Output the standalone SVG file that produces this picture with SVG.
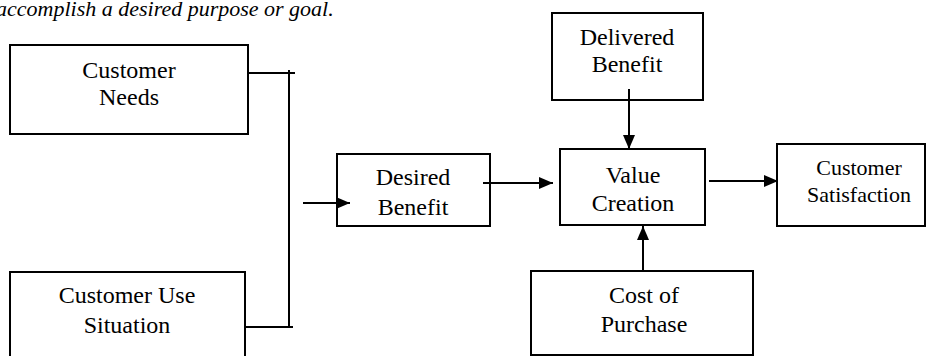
<svg xmlns="http://www.w3.org/2000/svg" width="927" height="356" viewBox="0 0 927 356">
<style>
.box{fill:#fff;stroke:#000;stroke-width:2}
.t{font-family:"Liberation Serif","DejaVu Serif",serif;font-size:24px;fill:#000;text-anchor:middle}
.s{font-size:22px}
.ttl{font-family:"Liberation Serif","DejaVu Serif",serif;font-style:italic;font-size:22px;fill:#000}
.ln{fill:none;stroke:#000;stroke-width:2}
</style>
<defs>
<marker id="ah" viewBox="0 0 14 12" refX="14" refY="6" markerWidth="14" markerHeight="12" markerUnits="userSpaceOnUse" orient="auto">
<path d="M0,0 L14,6 L0,12 Z" fill="#000"/>
</marker>
</defs>
<text class="ttl" x="-4" y="16">accomplish a desired purpose or goal.</text>
<g id="customer-needs">
<rect class="box" x="10" y="45" width="238" height="89"/>
<text class="t" x="129" y="78">Customer</text>
<text class="t" x="129" y="105">Needs</text>
</g>
<g id="customer-use-situation">
<rect class="box" x="10" y="272" width="235" height="100"/>
<text class="t" x="127" y="303">Customer Use</text>
<text class="t" x="127" y="333">Situation</text>
</g>
<g id="desired-benefit">
<rect class="box" x="337" y="154" width="153" height="72"/>
<text class="t" x="413" y="185">Desired</text>
<text class="t" x="413" y="215">Benefit</text>
</g>
<g id="value-creation">
<rect class="box" x="560" y="149" width="145" height="76"/>
<text class="t" x="633" y="183">Value</text>
<text class="t" x="633" y="211">Creation</text>
</g>
<g id="delivered-benefit">
<rect class="box" x="552" y="13" width="151" height="87"/>
<text class="t" x="627" y="45">Delivered</text>
<text class="t" x="627" y="72">Benefit</text>
</g>
<g id="cost-of-purchase">
<rect class="box" x="531" y="271" width="222" height="84"/>
<text class="t" x="644" y="303">Cost of</text>
<text class="t" x="644" y="332">Purchase</text>
</g>
<g id="customer-satisfaction">
<rect class="box" x="777" y="144" width="148" height="82"/>
<text class="t s" x="859" y="175">Customer</text>
<text class="t s" x="859" y="202">Satisfaction</text>
</g>
<g id="connectors">
<path class="ln" d="M248,73 H295 M289,70 V327 M245,327 H293"/>
<path class="ln" d="M303,203 H350" marker-end="url(#ah)"/>
<path class="ln" d="M483,183 H553" marker-end="url(#ah)"/>
<path class="ln" d="M629,89 V149" marker-end="url(#ah)"/>
<path class="ln" d="M643,271 V226" marker-end="url(#ah)"/>
<path class="ln" d="M709,181 H778" marker-end="url(#ah)"/>
</g>
</svg>
